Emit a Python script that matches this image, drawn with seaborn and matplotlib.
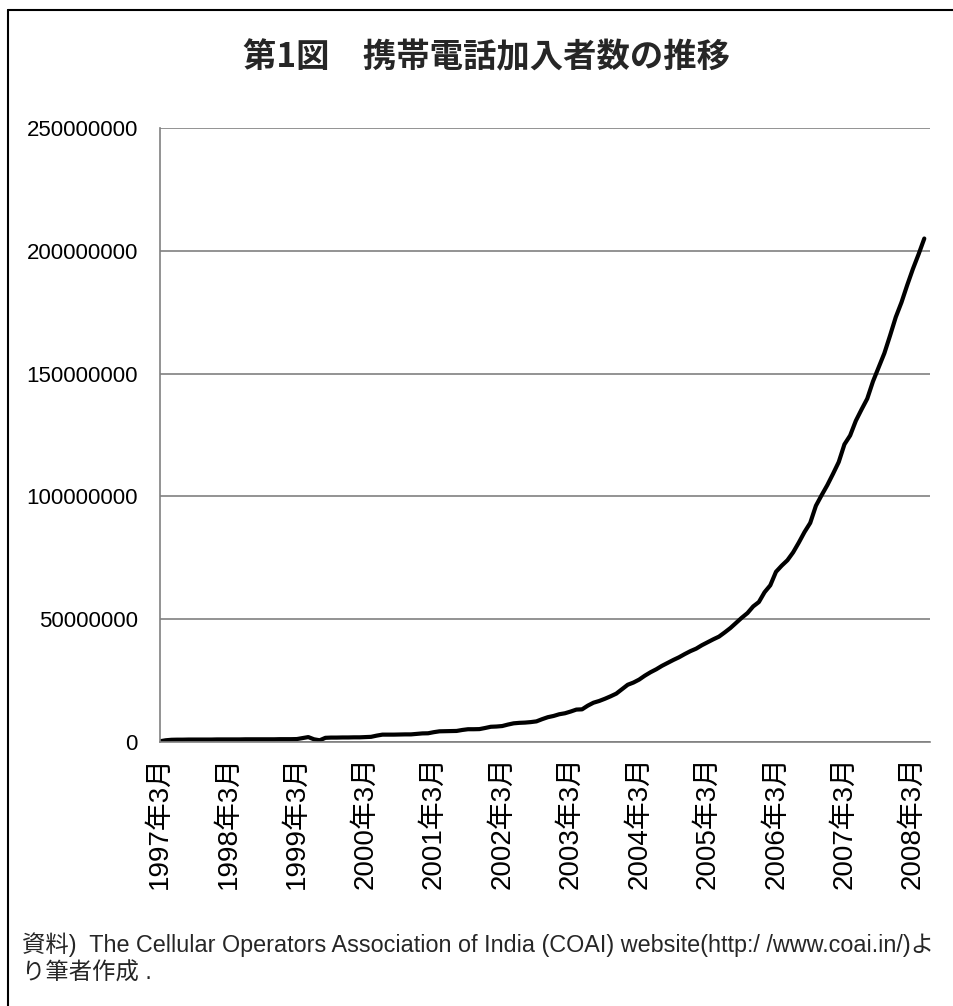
import numpy as np
import pandas as pd
import matplotlib
matplotlib.use("Agg")
import matplotlib.pyplot as plt
from matplotlib.lines import Line2D
import seaborn as sns

# Monthly mobile (GSM) subscribers in India, millions, March 1997 to May 2008
subscribers_million = [
    0.3, 0.7, 0.9, 0.95, 0.95, 1.0, 1.0, 1.0, 1.0, 1.0, 1.05, 1.05,
    1.05, 1.05, 1.05, 1.1, 1.1, 1.1, 1.1, 1.1, 1.1, 1.15, 1.15, 1.15,
    1.2, 1.6, 2.0, 1.1, 0.7, 1.7, 1.8, 1.8, 1.85, 1.85, 1.9, 1.9,
    2.0, 2.1, 2.6, 3.0, 3.0, 3.0, 3.05, 3.1, 3.1, 3.3, 3.5, 3.55,
    4.0, 4.35, 4.4, 4.45, 4.5, 4.9, 5.2, 5.2, 5.25, 5.7, 6.2, 6.3,
    6.5, 7.1, 7.6, 7.8, 7.9, 8.1, 8.4, 9.3, 10.1, 10.6, 11.3, 11.7,
    12.4, 13.2, 13.3, 14.8, 16.0, 16.7, 17.6, 18.6, 19.7, 21.5, 23.3, 24.2,
    25.4, 27.0, 28.4, 29.6, 31.0, 32.2, 33.4, 34.5, 35.8, 37.0, 38.0, 39.4,
    40.6, 41.8, 42.9, 44.6, 46.4, 48.5, 50.6, 52.5, 55.2, 57.0, 61.0, 63.8,
    69.3, 71.8, 74.0, 77.2, 81.2, 85.5, 89.2, 96.2, 100.5, 104.6, 109.2, 114.0,
    121.2, 124.8, 130.8, 135.4, 139.8, 146.8, 152.6, 158.3, 165.5, 173.0, 179.0, 186.0,
    192.6, 198.6, 205.0,
]
year_labels = ["1997年3月", "1998年3月", "1999年3月", "2000年3月", "2001年3月",
               "2002年3月", "2003年3月", "2004年3月", "2005年3月", "2006年3月",
               "2007年3月", "2008年3月"]
y_ticks = [0, 50000000, 100000000, 150000000, 200000000, 250000000]

title = "第1図　携帯電話加入者数の推移"
note_line1 = "資料)  The Cellular Operators Association of India (COAI) website(http:/ /www.coai.in/)よ"
note_line2 = "り筆者作成 ."

months = pd.period_range("1997-03", periods=len(subscribers_million), freq="M")
df = pd.DataFrame({
    "month": months.astype(str),
    "idx": np.arange(len(months)),
    "subscribers": np.array(subscribers_million) * 1_000_000,
})

sns.set_style("white")
plt.rcParams["font.family"] = ["Liberation Sans", "Noto Sans CJK JP", "DejaVu Sans"]

W, H = 954, 1006
fig = plt.figure(figsize=(W / 100, H / 100), dpi=100)
ax = fig.add_axes([160 / W, 1 - 742 / H, 770 / W, 614 / H])

sns.lineplot(data=df, x="idx", y="subscribers", ax=ax, color="black",
             linewidth=3, solid_capstyle="round", solid_joinstyle="round")

ax.set_xlim(0, 135)
ax.set_ylim(0, 250000000)
ax.set_yticks(y_ticks)
ax.set_yticklabels([str(v) for v in y_ticks])
ax.set_xticks(np.arange(len(year_labels)) * 12)
ax.set_xticklabels(year_labels, rotation=90)
ax.set_xlabel("")
ax.set_ylabel("")

ax.yaxis.grid(True, color="#808080", linewidth=1.2)
ax.xaxis.grid(False)
ax.set_axisbelow(True)
for side in ("top", "right"):
    ax.spines[side].set_visible(False)
for side in ("left", "bottom"):
    ax.spines[side].set_color("#808080")
    ax.spines[side].set_linewidth(1.2)

ax.tick_params(axis="both", direction="in", length=6, width=1, color="#404040",
               labelcolor="black")
ax.tick_params(axis="y", pad=16, labelsize=16)
ax.tick_params(axis="x", pad=10, labelsize=20)

fig.text(487 / W, 1 - 58 / H, title, ha="center", va="center",
         fontsize=24, fontweight="bold", family=["Noto Sans CJK JP"])
fig.text(22 / W, 1 - 945 / H, note_line1, ha="left", va="center", fontsize=16.8)
fig.text(22 / W, 1 - 973 / H, note_line2, ha="left", va="center", fontsize=16.8)

# outer frame around the figure
fig.add_artist(Line2D([8 / W, 8 / W], [0, 1 - 10 / H], transform=fig.transFigure,
                      color="black", linewidth=1.5))
fig.add_artist(Line2D([8 / W, 1], [1 - 10 / H, 1 - 10 / H], transform=fig.transFigure,
                      color="black", linewidth=1.5))

fig.savefig("out.png", dpi=100)
